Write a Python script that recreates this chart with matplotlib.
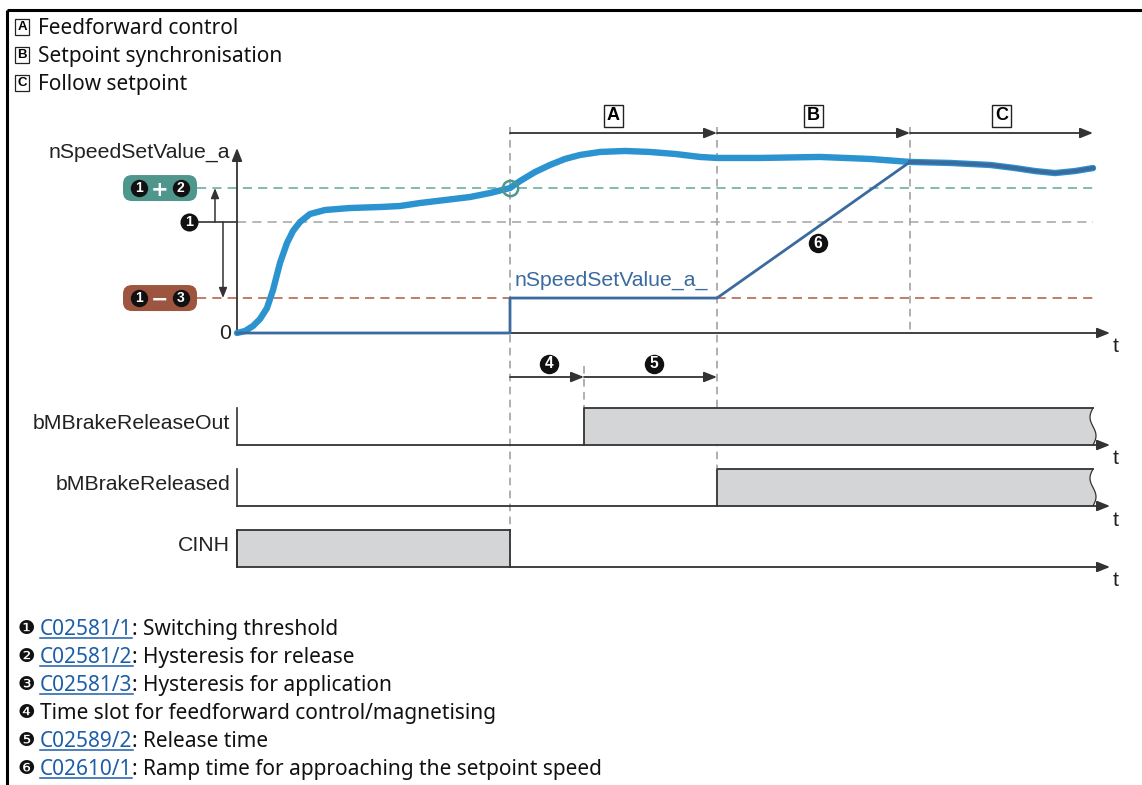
import numpy as np
import matplotlib.pyplot as plt
from matplotlib.patches import FancyBboxPatch, Polygon
from matplotlib.transforms import blended_transform_factory

W, H = 1142, 785

# --- data -------------------------------------------------------------
# event times (time units)
t_cinh_off = 27.3
t_brake_out = 34.7
t_released = 48.0
t_sync = 67.3
t_end = 85.6
t_axis = 87.3

# speed thresholds (arbitrary speed units)
thr_release = 130.6   # 1 + 2
thr_switch = 100.0    # 1
thr_apply = 31.5      # 1 - 3

curve_t = [0.0, 0.8, 1.6, 2.3, 3.0, 3.6, 4.3, 5.0, 5.6, 6.3, 7.3, 8.8, 11.3,
           14.3, 16.3, 18.3, 20.8, 23.3, 25.3, 27.3, 28.3, 29.8, 31.3, 32.8,
           34.3, 36.3, 38.8, 41.3, 43.8, 46.3, 48.0, 52.3, 58.3, 63.3, 67.3,
           71.3, 75.3, 77.8, 79.8, 81.8, 83.8, 85.6]
curve_v = [0.0, 1.8, 6.3, 12.6, 22.5, 38.7, 63.1, 81.1, 91.9, 100.0, 107.2,
           110.8, 112.6, 113.5, 114.4, 117.1, 119.8, 122.5, 126.1, 130.6,
           136.9, 145.0, 151.4, 156.8, 160.4, 163.1, 164.0, 163.1, 161.3,
           158.6, 157.7, 157.7, 158.6, 156.8, 154.1, 153.2, 151.4, 148.6,
           145.9, 144.1, 145.9, 148.6]

# setpoint nSpeedSetValue_a_ (joins the actual speed at t_sync)
sp_t = [0.0, t_cinh_off, t_cinh_off, t_released, t_sync]
sp_v = [0.0, 0.0, thr_apply, thr_apply, 154.1]

signal_names = ['bMBrakeReleaseOut', 'bMBrakeReleased', 'CINH']
signal_on = [t_brake_out, t_released, 0.0]
signal_off = [t_end, t_end, t_cinh_off]
signal_open_end = [True, True, False]

phase_letters = ['A', 'B', 'C']
phase_start = [t_cinh_off, t_released, t_sync]
phase_stop = [t_released, t_sync, t_end]
phase_text = ['Feedforward control', 'Setpoint synchronisation', 'Follow setpoint']

note_glyphs = ['\u2776', '\u2777', '\u2778', '\u2779', '\u277a', '\u277b']
note_links = ['C02581/1', 'C02581/2', 'C02581/3', None, 'C02589/2', 'C02610/1']
note_text = ['Switching threshold', 'Hysteresis for release',
             'Hysteresis for application',
             'Time slot for feedforward control/magnetising',
             'Release time', 'Ramp time for approaching the setpoint speed']

# --- styling ------------------------------------------------------------
LBL = 'Liberation Sans'
TXT = 'Noto Sans'
LBL_SIZE = 15.3
TXT_SIZE = 15
DARK = '#333333'
LIGHT_BLUE = '#2b93cf'
SP_BLUE = '#3a6a9e'
TEAL = '#4f968c'
TEAL_DASH = '#5ea89c'
BROWN = '#9e5540'
BROWN_DASH = '#b0583e'
GREY_DASH = '#a3a3a3'
BAR = '#d4d5d7'
LINK = '#1d5ea8'
ARROW = dict(arrowstyle='-|>,head_length=0.55,head_width=0.22', color=DARK,
             lw=1.3, shrinkA=0, shrinkB=0, mutation_scale=14)

fig = plt.figure(figsize=(W / 100, H / 100), dpi=100)

ax_px = fig.add_axes([0, 0, 1, 1], label='px')
ax_px.set_xlim(0, W)
ax_px.set_ylim(H, 0)
ax_px.set_axis_off()


def data_axes(name, x0, y0, sx, sy):
    ax = fig.add_axes([0, 0, 1, 1], label=name)
    ax.set_xlim(-x0 / sx, (W - x0) / sx)
    ax.set_ylim((y0 - H) / sy, y0 / sy)
    ax.set_axis_off()
    ax.patch.set_alpha(0)
    return ax


ax_s = data_axes('speed', 237, 333, 10, 1.11)
blend = blended_transform_factory(ax_s.transData, ax_px.transData)


def to_px_y(ax, v):
    return ax_px.transData.inverted().transform(ax.transData.transform((0, v)))[1]


def num_marker(ax, x, y, n, size=12, transform=None):
    tr = transform if transform is not None else ax.transData
    ax.plot([x], [y], 'o', ms=size, color='#111111', mew=0, transform=tr, zorder=6)
    ax.text(x, y, str(n), color='white', fontsize=size * 0.8, fontweight='bold',
            family=LBL, ha='center', va='center', transform=tr, zorder=7)


# frame
ax_px.plot([7, W], [10, 10], color='black', lw=2.2, solid_capstyle='butt')
ax_px.plot([7, 7], [10, H], color='black', lw=2.2, solid_capstyle='butt')

# top legend
for i, (letter, txt) in enumerate(zip(phase_letters, phase_text)):
    y = 26 + 28 * i
    ax_px.text(22, y + 1, letter, ha='center', va='center', fontsize=9.5,
               fontweight='bold', family=LBL,
               bbox=dict(boxstyle='square,pad=0.18', fc='white', ec='#222222', lw=0.9))
    ax_px.text(38, y, txt, ha='left', va='center_baseline', fontsize=TXT_SIZE,
               family=TXT, color='#111111')

# --- speed diagram -------------------------------------------------------
ax_s.annotate('', xy=(t_axis, 0), xytext=(0, 0), arrowprops=ARROW)
ax_s.annotate('', xy=(0, 166.7), xytext=(0, 0), arrowprops=ARROW)
ax_s.text(-0.6, 0, '0', ha='right', va='center', fontsize=LBL_SIZE, family=LBL,
          color='#222222')
ax_s.text(-0.7, 163, 'nSpeedSetValue_a', ha='right', va='center', fontsize=LBL_SIZE,
          family=LBL, color='#222222')
ax_px.text(1116, 346, 't', ha='center', va='center', fontsize=LBL_SIZE, family=LBL,
           color='#222222')

# threshold lines
dash = (0, (6, 4))
ax_s.plot([-4.0, t_end], [thr_release, thr_release], color=TEAL_DASH, lw=1.1, ls=dash)
ax_s.plot([0, t_end], [thr_switch, thr_switch], color=GREY_DASH, lw=1.1, ls=dash)
ax_s.plot([-4.0, t_end], [thr_apply, thr_apply], color=BROWN_DASH, lw=1.1, ls=dash)
ax_s.plot([-4.7, 0], [thr_switch, thr_switch], color=DARK, lw=1.2)
ax_s.annotate('', xy=(-2.2, thr_release), xytext=(-2.2, thr_switch),
              arrowprops=dict(ARROW, lw=1.1, mutation_scale=11))
ax_s.annotate('', xy=(-1.4, thr_apply), xytext=(-1.4, thr_switch),
              arrowprops=dict(ARROW, lw=1.1, mutation_scale=11))
num_marker(ax_s, -4.8, thr_switch, 1, size=13)

# badges
for v, col, sign, nums in [(thr_release, TEAL, '+', (1, 2)), (thr_apply, BROWN, '\u2212', (1, 3))]:
    yc = to_px_y(ax_s, v)
    ax_px.add_patch(FancyBboxPatch((123, yc - 13), 74, 26,
                                   boxstyle='round,pad=0,rounding_size=9',
                                   fc=col, ec='none', zorder=3))
    num_marker(ax_px, 138.5, yc, nums[0], size=12.5)
    num_marker(ax_px, 180.5, yc, nums[1], size=12.5)
    ax_px.text(159.5, yc, sign, color='white', fontsize=15, fontweight='bold',
               family='DejaVu Sans', ha='center', va='center_baseline', zorder=7)

# guide lines
guide = dict(color='#9a9a9a', lw=1.1, ls=(0, (5, 3.5)), zorder=1)
ax_px.plot([t_cinh_off, t_cinh_off], [127, 567], transform=blend, **guide)
ax_px.plot([t_released, t_released], [127, 468], transform=blend, **guide)
ax_px.plot([t_sync, t_sync], [127, 333], transform=blend, **guide)
ax_px.plot([t_brake_out, t_brake_out], [366, 408], transform=blend, **guide)

# phase arrows A/B/C
for letter, a, b in zip(phase_letters, phase_start, phase_stop):
    ax_px.annotate('', xy=(b, 133), xytext=(a, 133), xycoords=blend,
                   textcoords=blend, arrowprops=ARROW)
    ax_px.text((a + b) / 2, 116, letter, ha='center', va='center', fontsize=13,
               fontweight='bold', family=LBL, transform=blend,
               bbox=dict(boxstyle='square,pad=0.16', fc='white', ec='#222222', lw=1.0))

# time slots 4 and 5
ax_px.annotate('', xy=(t_brake_out, 377), xytext=(t_cinh_off, 377), xycoords=blend,
               textcoords=blend, arrowprops=ARROW)
ax_px.annotate('', xy=(t_released, 377), xytext=(t_brake_out, 377), xycoords=blend,
               textcoords=blend, arrowprops=ARROW)
num_marker(ax_px, (t_cinh_off + t_brake_out) / 2 + 0.2, 364, 4, size=14, transform=blend)
num_marker(ax_px, (t_brake_out + t_released) / 2 + 0.3, 364, 5, size=14, transform=blend)

# curves
ax_s.plot(curve_t, curve_v, color=LIGHT_BLUE, lw=4.6, solid_joinstyle='round',
          solid_capstyle='round', zorder=4)
follow = [i for i, t in enumerate(curve_t) if t > t_sync]
ax_s.plot(sp_t + [curve_t[i] for i in follow], sp_v + [curve_v[i] for i in follow],
          color=SP_BLUE, lw=2.0, solid_joinstyle='round', zorder=5)
ax_s.plot([t_sync] + [curve_t[i] for i in follow], [sp_v[-1]] + [curve_v[i] for i in follow],
          color=SP_BLUE, lw=2.8, solid_joinstyle='round', zorder=5)
ax_s.plot([t_cinh_off], [thr_release], 'o', ms=11, mfc='none', mec=TEAL, mew=1.8, zorder=6)
ax_s.text(t_cinh_off + 0.5, 47.7, 'nSpeedSetValue_a_', ha='left', va='center',
          fontsize=LBL_SIZE, family=LBL, color=SP_BLUE)
num_marker(ax_s, 58.1, 81, 6, size=14)

# --- digital signals -----------------------------------------------------
for k, (name, on, off, open_end) in enumerate(zip(signal_names, signal_on, signal_off,
                                                  signal_open_end)):
    base = 445 + 61 * k
    ax_b = data_axes('sig%d' % k, 237, base, 10, 37)
    if open_end:
        s = np.linspace(0, 1, 40)
        edge = np.column_stack([off - 0.3 * np.sin(2 * np.pi * s), 1 - s])
        pts = np.vstack([[on, 0], [on, 1], edge])
    else:
        pts = np.array([[on, 0], [on, 1], [off, 1], [off, 0]])
    ax_b.add_patch(Polygon(pts, closed=True, fc=BAR, ec='none', zorder=2))
    ax_b.plot([on, on, off], [0, 1, 1], color=DARK, lw=1.3, zorder=3)
    if open_end:
        ax_b.plot(edge[:, 0], edge[:, 1], color=DARK, lw=0.9, zorder=3)
    else:
        ax_b.plot([off, off], [1, 0], color=DARK, lw=1.3, zorder=3)
    ax_b.plot([0, 0], [0, 1], color=DARK, lw=1.2, zorder=3)
    ax_b.annotate('', xy=(t_axis, 0), xytext=(0, 0), arrowprops=ARROW)
    ax_b.text(-0.7, 0.58, name, ha='right', va='center', fontsize=LBL_SIZE, family=LBL,
              color='#222222')
    ax_px.text(1116, base + 14, 't', ha='center', va='center', fontsize=LBL_SIZE,
               family=LBL, color='#222222')

# --- notes ---------------------------------------------------------------
links = []
for i, (g, link, txt) in enumerate(zip(note_glyphs, note_links, note_text)):
    y = 627 + 28 * i
    ax_px.text(26, y, g, ha='center', va='center_baseline', fontsize=14,
               family='DejaVu Sans', color='#111111')
    if link:
        lt = ax_px.text(40, y, link, ha='left', va='center_baseline', fontsize=TXT_SIZE,
                        family=TXT, color=LINK)
        ax_px.annotate(': ' + txt, xy=(1, 0), xycoords=lt, ha='left', va='bottom',
                       fontsize=TXT_SIZE, family=TXT, color='#111111')
        links.append(lt)
    else:
        ax_px.text(40, y, txt, ha='left', va='center_baseline', fontsize=TXT_SIZE,
                   family=TXT, color='#111111')

fig.canvas.draw()
r = fig.canvas.get_renderer()
inv = ax_px.transData.inverted()
for lt in links:
    bb = lt.get_window_extent(r)
    (x0, y0), (x1, _) = inv.transform([[bb.x0, bb.y0], [bb.x1, bb.y0]])
    ax_px.plot([x0, x1], [y0 - 2, y0 - 2], color=LINK, lw=1.1)

fig.savefig('out.png', dpi=100)
